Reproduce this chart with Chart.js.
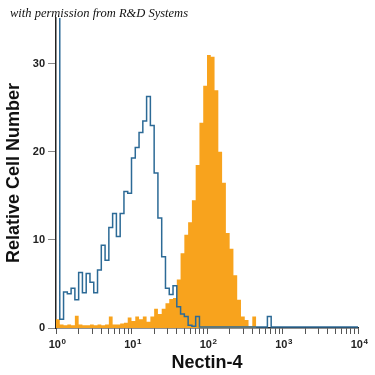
<!DOCTYPE html>
<html>
<head>
<meta charset="utf-8">
<script src="https://cdn.jsdelivr.net/npm/chart.js@4/dist/chart.umd.min.js"></script>
<style>
  body { margin: 0; background: #fff; }
  #wrap { position: relative; width: 375px; height: 375px; }
  #note {
    position: absolute; left: 10px; top: 6px;
    font: italic 12.5px "Liberation Serif", serif; color: #111;
    white-space: nowrap; z-index: 2;
  }
</style>
</head>
<body>
<div id="wrap">
  <div id="note">with permission from R&amp;D Systems</div>
  <canvas id="chart" width="375" height="375"></canvas>
</div>
<script>
// 20 bins per decade, 10^0 .. 10^4
const binsPerDecade = 20;
const decades = [1, 10, 100, 1000, 10000];
const decadeExponents = ['0', '1', '2', '3', '4'];
const yTicks = [0, 10, 20, 30];

// isotype control (blue outline)
const controlCounts = [
  40, 1.0, 4.1, 3.9, 4.5, 3.2, 6.3, 4.0, 6.2, 5.2,
  4.0, 6.6, 9.4, 7.7, 11.4, 13.0, 10.4, 13.0, 15.5, 15.3,
  19.3, 20.5, 22.2, 23.5, 26.3, 23.0, 17.6, 12.5, 8.1, 4.5,
  3.8, 4.8, 2.4, 1.6, 1.3, 0.3, 0.2, 1.3, 0.1, 0.1,
  0.1, 0.1, 0.1, 0.1, 0.1, 0.1, 0.1, 0.1, 0.1, 0.1,
  0.1, 0.1, 0.1, 0.1, 0.1, 0.1, 1.3, 0.1, 0.1, 0.1,
  0.1, 0.1, 0.1, 0.1, 0.1, 0.1, 0.1, 0.1, 0.1, 0.1,
  0.1, 0.1, 0.1, 0.1, 0.1, 0.1, 0.1, 0.1, 0.1, 0.1
];

// Nectin-4 stained (orange filled)
const nectinCounts = [
  1.0, 0.4, 0.3, 0.4, 0.3, 1.4, 0.4, 0.3, 0.3, 0.4,
  0.3, 0.4, 0.3, 0.4, 1.3, 0.4, 0.4, 0.5, 0.6, 1.2,
  0.8, 1.3, 1.0, 1.3, 0.7, 1.3, 2.2, 1.6, 2.2, 2.8,
  3.3, 3.4, 5.5, 8.5, 10.6, 12.0, 14.5, 18.5, 23.3, 27.5,
  31.0, 30.8, 27.0, 20.0, 16.5, 10.8, 9.0, 6.0, 3.2, 1.3,
  0.9, 0.2, 1.3, 0, 0, 0, 0, 0, 0, 0,
  0, 0, 0, 0, 0, 0, 0, 0, 0, 0,
  0, 0, 0, 0, 0, 0, 0, 0, 0, 0
];

function binEdge(i) {
  return Math.pow(10, i / binsPerDecade);
}

// step points: left edge of each bin, plus closing point at right edge
function toSteps(counts) {
  let pts = counts.map((v, i) => ({ x: binEdge(i), y: v }));
  pts.push({ x: binEdge(counts.length), y: counts[counts.length - 1] });
  return pts;
}

let xTickValues = [];
for (let d = 0; d < decades.length - 1; d++) {
  for (let k = 1; k < 10; k++) xTickValues.push(decades[d] * k);
}
xTickValues.push(decades[decades.length - 1]);

// "10" with a raised exponent under each decade tick
const decadeLabels = {
  id: 'decadeLabels',
  afterDraw(chart) {
    const ctx = chart.ctx;
    const x = chart.scales.x;
    const base = 'bold 11px Arial, "Liberation Sans"';
    const sup = 'bold 8px Arial, "Liberation Sans"';
    ctx.save();
    ctx.fillStyle = '#222';
    ctx.textBaseline = 'alphabetic';
    decades.forEach((d, i) => {
      const px = x.getPixelForValue(d);
      ctx.font = base;
      const w1 = ctx.measureText('10').width;
      ctx.font = sup;
      const w2 = ctx.measureText(decadeExponents[i]).width;
      const left = px - (w1 + w2) / 2 + 1;
      const baseline = x.top + 20;
      ctx.font = base;
      ctx.fillText('10', left, baseline);
      ctx.font = sup;
      ctx.fillText(decadeExponents[i], left + w1 + 0.5, baseline - 4);
    });
    ctx.restore();
  }
};

new Chart(document.getElementById('chart'), {
  type: 'line',
  data: {
    datasets: [
      {
        label: 'Control',
        data: toSteps(controlCounts),
        stepped: true,
        borderColor: '#2c6a96',
        borderWidth: 1.5,
        pointRadius: 0,
        fill: false,
        order: 0
      },
      {
        label: 'Nectin-4',
        data: toSteps(nectinCounts),
        stepped: true,
        borderWidth: 0,
        backgroundColor: '#f8a31d',
        pointRadius: 0,
        fill: 'origin',
        order: 1
      }
    ]
  },
  plugins: [decadeLabels],
  options: {
    responsive: false,
    animation: false,
    layout: { padding: { top: 18, right: 17, left: 0, bottom: 0 } },
    plugins: { legend: { display: false }, tooltip: { enabled: false } },
    scales: {
      x: {
        type: 'logarithmic',
        min: 1,
        max: 10000,
        afterBuildTicks: (scale) => {
          scale.ticks = xTickValues.map(v => ({ value: v }));
        },
        afterFit: (scale) => { scale.height = 47; },
        ticks: {
          autoSkip: false,
          maxRotation: 0,
          callback: () => ''
        },
        grid: { drawOnChartArea: false, tickLength: 6, tickColor: '#555', lineWidth: 1 },
        border: { display: true, color: '#222', width: 1.5 },
        title: {
          display: true,
          text: 'Nectin-4',
          color: '#111',
          padding: { top: 0, bottom: 1 },
          font: { family: 'Arial, "Liberation Sans"', size: 18, weight: 'bold' }
        }
      },
      y: {
        min: 0,
        max: 35.2,
        afterBuildTicks: (scale) => {
          scale.ticks = yTicks.map(v => ({ value: v }));
        },
        afterFit: (scale) => { scale.width = 56; },
        ticks: {
          padding: 3,
          color: '#222',
          font: { family: 'Arial, "Liberation Sans"', size: 11, weight: 'bold' }
        },
        grid: { drawOnChartArea: false, tickLength: 8, tickColor: '#888', lineWidth: 1 },
        border: { display: true, color: '#222', width: 1.5 },
        title: {
          display: true,
          text: 'Relative Cell Number',
          color: '#111',
          padding: { top: 3, bottom: 0 },
          font: { family: 'Arial, "Liberation Sans"', size: 18, weight: 'bold' }
        }
      }
    }
  }
});
</script>
</body>
</html>
